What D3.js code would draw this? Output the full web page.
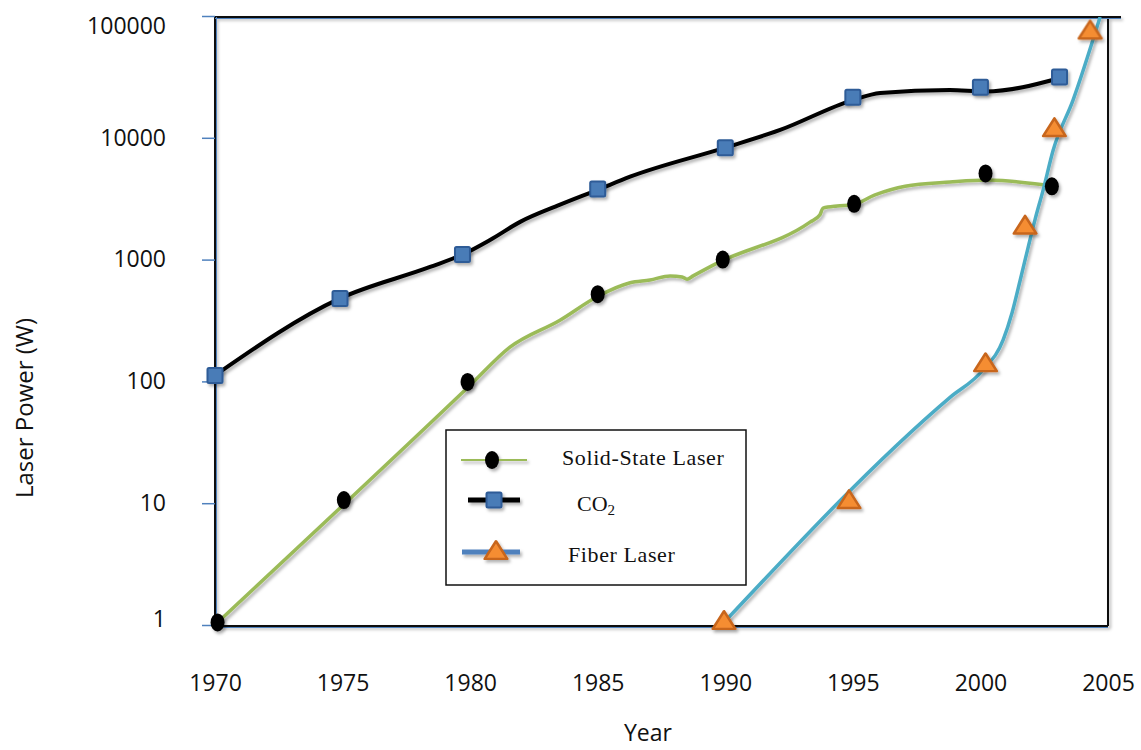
<!DOCTYPE html>
<html><head><meta charset="utf-8">
<script src="https://cdn.jsdelivr.net/npm/d3@7/dist/d3.min.js"></script>
<style>body{margin:0;background:#fff}svg{display:block}</style>
</head><body><svg id="c" width="1141" height="750"></svg>
<script>
// ---- data ----
const yTickValues = [1, 10, 100, 1000, 10000, 100000];
const xTickValues = [1970, 1975, 1980, 1985, 1990, 1995, 2000, 2005];
const seriesNames = ["Solid-State Laser", "CO2", "Fiber Laser"];

// marker points
const solidYears  = [1970.1, 1975.05, 1979.9, 1985.0, 1989.9, 1995.05, 2000.2, 2002.8];
const solidValues = [1.05, 10.6, 99, 520, 1000, 2870, 5100, 4000];
const co2Years    = [1970, 1974.9, 1979.7, 1985.0, 1990.0, 1995.0, 2000.0, 2003.1];
const co2Values   = [112, 480, 1100, 3800, 8300, 21500, 26000, 31500];
const fiberYears  = [1989.95, 1994.85, 2000.2, 2001.75, 2002.9, 2004.3];
const fiberValues = [1.08, 10.6, 141, 1900, 12000, 76000];

// drawn (smoothed) line vertices
const solidLineYears  = [1970.1, 1980.0, 1981.56, 1983.52, 1985.01, 1986.27, 1987.05, 1987.84, 1988.31, 1988.5, 1988.74, 1989.68, 1993.32, 1993.71, 1993.83, 1994.38, 1994.97, 1995.87, 1997.05, 1998.81, 2000.26, 2002.54];
const solidLineValues = [1.05, 93, 191, 318, 500, 645, 680, 735, 720, 690, 735, 935, 2030, 2330, 2650, 2760, 2810, 3400, 4000, 4330, 4500, 4090];
const co2LineYears  = [1970, 1974.9, 1978.43, 1979.7, 1980.78, 1981.96, 1983.5, 1984.97, 1986.27, 1990.0, 1992.15, 1995.0, 1996.07, 1998.8, 2000.18, 2003.12];
const co2LineValues = [112, 480, 870, 1100, 1450, 2040, 2810, 3720, 4790, 8300, 11600, 20400, 23300, 24700, 24000, 31000];
const fiberLineYears  = [1989.95, 1998.81, 2000.1, 2000.89, 2001.24, 2001.56, 2001.87, 2002.14, 2002.46, 2002.85, 2003.63, 2004.69];
const fiberLineValues = [1.05, 74, 124, 219, 366, 680, 1260, 2130, 3740, 7900, 20400, 98000];

// ---- chart ----
const svg = d3.select("#c");
const L = 215, R = 1108, T = 17, B = 626;
const x = d3.scaleLinear().domain([1970, 2005]).range([L, R]);
const y = d3.scaleLog().domain([1, 100000]).range([625, 16]);

const defs = svg.append("defs");
const f = defs.append("filter").attr("id", "sh").attr("x", "-20%").attr("y", "-20%").attr("width", "140%").attr("height", "140%");
f.append("feDropShadow").attr("dx", 2).attr("dy", 2.5).attr("stdDeviation", 1.6).attr("flood-color", "#000").attr("flood-opacity", 0.3);
defs.append("clipPath").attr("id", "clip").append("rect").attr("x", L).attr("y", T).attr("width", R - L).attr("height", B - T);

const tickFont = "'Open Sans', 'Liberation Sans', sans-serif";

// frame
const frame = svg.append("g").attr("filter", "url(#sh)");
frame.append("line").attr("x1", L).attr("x2", 1121).attr("y1", T).attr("y2", T).attr("stroke", "#111").attr("stroke-width", 2);
frame.append("line").attr("x1", R).attr("x2", R).attr("y1", T).attr("y2", B).attr("stroke", "#111").attr("stroke-width", 2);
frame.append("line").attr("x1", L).attr("x2", R).attr("y1", B).attr("y2", B).attr("stroke", "#111").attr("stroke-width", 2);
frame.append("line").attr("x1", L).attr("x2", L).attr("y1", T).attr("y2", B).attr("stroke", "#111").attr("stroke-width", 2);
svg.append("line").attr("x1", L + 1.5).attr("x2", L + 1.5).attr("y1", T).attr("y2", B).attr("stroke", "#4f81bd").attr("stroke-width", 1);
svg.append("line").attr("x1", L).attr("x2", R).attr("y1", B + 1.5).attr("y2", B + 1.5).attr("stroke", "#4f81bd").attr("stroke-width", 1);
svg.append("line").attr("x1", L).attr("x2", 1121).attr("y1", T + 1.5).attr("y2", T + 1.5).attr("stroke", "#4f81bd").attr("stroke-width", 1);

// y axis
const yAxis = d3.axisLeft(y).tickValues(yTickValues).tickFormat(d3.format("d")).tickSize(13).tickPadding(36);
const gy = svg.append("g").attr("transform", `translate(${L},0)`).call(yAxis);
gy.select(".domain").remove();
gy.selectAll(".tick line").attr("stroke", "#4f81bd").attr("stroke-width", 1.5);
gy.selectAll(".tick text").attr("font-family", tickFont).attr("font-size", 23).attr("fill", "#111");
gy.selectAll(".tick").filter(d => d === 100000).select("text").attr("dy", "0.75em");
gy.selectAll(".tick").filter(d => d === 1).select("text").attr("dy", "0.05em");

// x axis
const xAxis = d3.axisBottom(x).tickValues(xTickValues).tickFormat(d3.format("d")).tickSize(0).tickPadding(49);
const gx = svg.append("g").attr("transform", `translate(0,${B})`).call(xAxis);
gx.select(".domain").remove();
gx.selectAll(".tick text").attr("font-family", tickFont).attr("font-size", 23).attr("fill", "#111");

// axis titles
svg.append("text").attr("x", 648).attr("y", 741).attr("text-anchor", "middle")
  .attr("font-family", tickFont).attr("font-size", 23).attr("fill", "#111").text("Year");
svg.append("text").attr("transform", "translate(33,408) rotate(-90)").attr("text-anchor", "middle")
  .attr("font-family", tickFont).attr("font-size", 24).attr("fill", "#111").text("Laser Power (W)");

// lines
const line = d3.line().x(d => x(d[0])).y(d => y(d[1])).curve(d3.curveMonotoneX);
const zip = (a, b) => a.map((v, i) => [v, b[i]]);
const plot = svg.append("g").attr("clip-path", "url(#clip)");
const lines = plot.append("g").attr("filter", "url(#sh)");
lines.append("path").attr("d", line(zip(solidLineYears, solidLineValues))).attr("fill", "none").attr("stroke", "#9bbb59").attr("stroke-width", 3.5).attr("stroke-linejoin", "round");
lines.append("path").attr("d", line(zip(co2LineYears, co2LineValues))).attr("fill", "none").attr("stroke", "#000").attr("stroke-width", 4).attr("stroke-linejoin", "round");
lines.append("path").attr("d", line(zip(fiberLineYears, fiberLineValues))).attr("fill", "none").attr("stroke", "#4bacc6").attr("stroke-width", 3.5).attr("stroke-linejoin", "round");

// markers
const tri = d3.symbol().type(d3.symbolTriangle).size(200);
function drawSolid(g, cx, cy) {
  g.append("ellipse").attr("cx", cx).attr("cy", cy).attr("rx", 7).attr("ry", 9).attr("fill", "#000");
}
function drawSquare(g, cx, cy) {
  g.append("rect").attr("x", cx - 7.5).attr("y", cy - 7.5).attr("width", 15).attr("height", 15).attr("rx", 1.5)
    .attr("fill", "#4a7bb7").attr("stroke", "#2e5b97").attr("stroke-width", 2);
}
function drawTri(g, cx, cy) {
  g.append("path").attr("d", tri()).attr("transform", `translate(${cx},${cy + 2}) scale(1.05,0.95)`)
    .attr("fill", "#f58d33").attr("stroke", "#c8661e").attr("stroke-width", 2.5).attr("stroke-linejoin", "round");
}
const mk = svg.append("g").attr("filter", "url(#sh)");
zip(solidYears, solidValues).forEach(d => drawSolid(mk, x(d[0]), y(d[1])));
zip(co2Years, co2Values).forEach(d => drawSquare(mk, x(d[0]), y(d[1])));
zip(fiberYears, fiberValues).forEach(d => drawTri(mk, x(d[0]), y(d[1])));

// legend
const lg = svg.append("g");
lg.append("rect").attr("x", 446).attr("y", 430).attr("width", 300).attr("height", 155).attr("fill", "#fff").attr("stroke", "#111").attr("stroke-width", 1.5);
const serif = "'Liberation Serif', 'Times New Roman', serif";
const lgi = lg.append("g").attr("filter", "url(#sh)");
lgi.append("line").attr("x1", 461).attr("x2", 527).attr("y1", 460).attr("y2", 460).attr("stroke", "#9bbb59").attr("stroke-width", 2);
drawSolid(lgi, 492, 460);
lgi.append("line").attr("x1", 468).attr("x2", 520).attr("y1", 500).attr("y2", 500).attr("stroke", "#000").attr("stroke-width", 5);
drawSquare(lgi, 494, 500);
lgi.append("line").attr("x1", 462).attr("x2", 520).attr("y1", 552).attr("y2", 552).attr("stroke", "#4f81bd").attr("stroke-width", 5);
drawTri(lgi, 496, 551);
lg.append("text").attr("x", 562).attr("y", 465).attr("font-family", serif).attr("font-size", 22).attr("letter-spacing", 0.6).attr("fill", "#111").text(seriesNames[0]);
const co2t = lg.append("text").attr("x", 577).attr("y", 511).attr("font-family", serif).attr("font-size", 22).attr("fill", "#111");
co2t.append("tspan").text("CO");
co2t.append("tspan").attr("font-size", 15).attr("dy", 4).text("2");
lg.append("text").attr("x", 568).attr("y", 562).attr("font-family", serif).attr("font-size", 22).attr("letter-spacing", 0.6).attr("fill", "#111").text(seriesNames[2]);
</script>
</body></html>
